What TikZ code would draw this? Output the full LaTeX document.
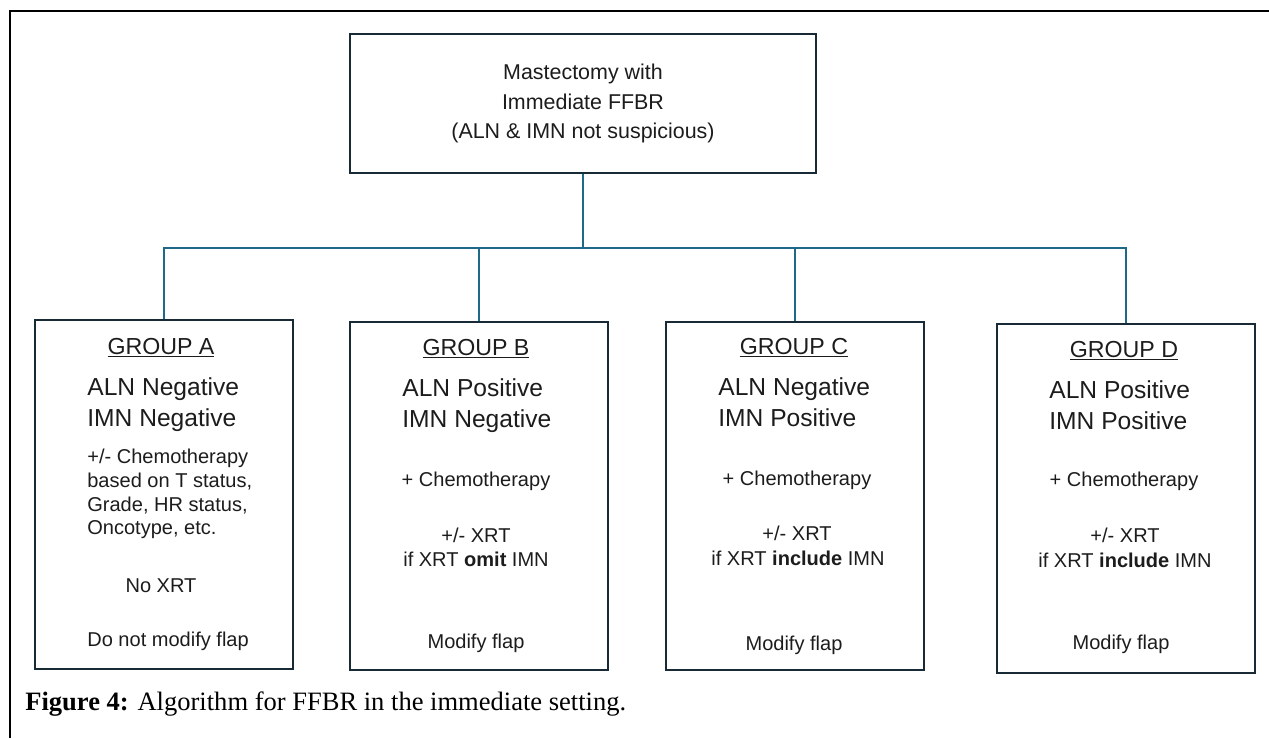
\documentclass[tikz,border=0pt]{standalone}
\usepackage{fontspec}
\setmainfont{Liberation Serif}
\newfontfamily\boxfont{Liberation Sans}
\usetikzlibrary{fit,positioning}
\definecolor{boxline}{RGB}{24,42,54}
\definecolor{linkblue}{RGB}{30,104,136}
\definecolor{ink}{RGB}{28,28,28}
\tikzset{frame/.style={line width=1.6pt,black},
  topbox/.style={draw=boxline,line width=1.5pt,align=center,minimum width=9.32cm,minimum height=2.78cm,
    inner sep=0pt,text=ink,font=\boxfont\fontsize{12.2}{17}\selectfont},
  grpbox/.style={draw=boxline,line width=1.5pt,inner sep=0pt},
  link/.style={linkblue,line width=1.1pt},
  head/.style={anchor=base,inner sep=0pt,text=ink,font=\boxfont\fontsize{13.2}{15}\selectfont},
  status/.style={anchor=base west,inner sep=0pt,text=ink,font=\boxfont\fontsize{14}{17}\selectfont},
  note/.style={anchor=base,inner sep=0pt,text=ink,font=\boxfont\fontsize{11.4}{14}\selectfont},
  caption/.style={anchor=base west,inner sep=0pt,font=\fontsize{15.1}{18}\selectfont}}
\begin{document}
\begin{tikzpicture}[x=0.02cm,y=-0.02cm]
\useasboundingbox (0,0) rectangle (1269,738);
\draw[frame] (10,738) -- (10,11) -- (1269,11);
% top of the tree
\node[topbox] (top) at (583,103.5) {Mastectomy with\\Immediate FFBR\\(ALN \& IMN not suspicious)};
% the four groups
\node[grpbox,fit={(35,320) (293,669)}] (gA) {};
\node[grpbox,fit={(350,322) (608,670)}] (gB) {};
\node[grpbox,fit={(666,322) (924,670)}] (gC) {};
\node[grpbox,fit={(997,324) (1255,673)}] (gD) {};
% connectors
\coordinate (bus) at (583,248);
\draw[link] (top.south) -- (bus);
\draw[link] (gA.north) |- (bus) -| (gD.north);
\draw[link] (gB.north) -- (gB.north |- bus);
\draw[link] (gC.north) -- (gC.north |- bus);
% group A
\node[head] (hA) at (161,354) {\underline{GROUP A}};
\node[status] (sA1) at (87,395) {ALN Negative};
\node[status] (sA2) at (87,426) {IMN Negative};
\node[note,anchor=base west] (nA1) at (87,463) {+/- Chemotherapy};
\node[note,anchor=base west] (nA2) at (87,487) {based on T status,};
\node[note,anchor=base west] (nA3) at (87,511) {Grade, HR status,};
\node[note,anchor=base west] (nA4) at (87,534) {Oncotype, etc.};
\node[note] (nA5) at (161,592) {No XRT};
\node[note,anchor=base west] (nA6) at (87,646) {Do not modify flap};
% group B
\node[head] (hB) at (476,355) {\underline{GROUP B}};
\node[status] (sB1) at (402,396) {ALN Positive};
\node[status] (sB2) at (402,427) {IMN Negative};
\node[note] (nB1) at (476,486) {+ Chemotherapy};
\node[note] (nB2) at (476,542) {+/- XRT};
\node[note] (nB3) at (476,566) {if XRT \textbf{omit} IMN};
\node[note] (nB4) at (476,648) {Modify flap};
% group C
\node[head] (hC) at (794,354) {\underline{GROUP C}};
\node[status] (sC1) at (718,395) {ALN Negative};
\node[status] (sC2) at (718,426) {IMN Positive};
\node[note] (nC1) at (797,485) {+ Chemotherapy};
\node[note] (nC2) at (797,540) {+/- XRT};
\node[note] (nC3) at (798,565) {if XRT \textbf{include} IMN};
\node[note] (nC4) at (794,650) {Modify flap};
% group D
\node[head] (hD) at (1124,357) {\underline{GROUP D}};
\node[status] (sD1) at (1049,398) {ALN Positive};
\node[status] (sD2) at (1049,429) {IMN Positive};
\node[note] (nD1) at (1124,486) {+ Chemotherapy};
\node[note] (nD2) at (1125,542) {+/- XRT};
\node[note] (nD3) at (1125,567) {if XRT \textbf{include} IMN};
\node[note] (nD4) at (1121,649) {Modify flap};
% caption
\node[caption] (cap) at (25,710) {\textbf{Figure 4:} Algorithm for FFBR in the immediate setting.};
\end{tikzpicture}
\end{document}
